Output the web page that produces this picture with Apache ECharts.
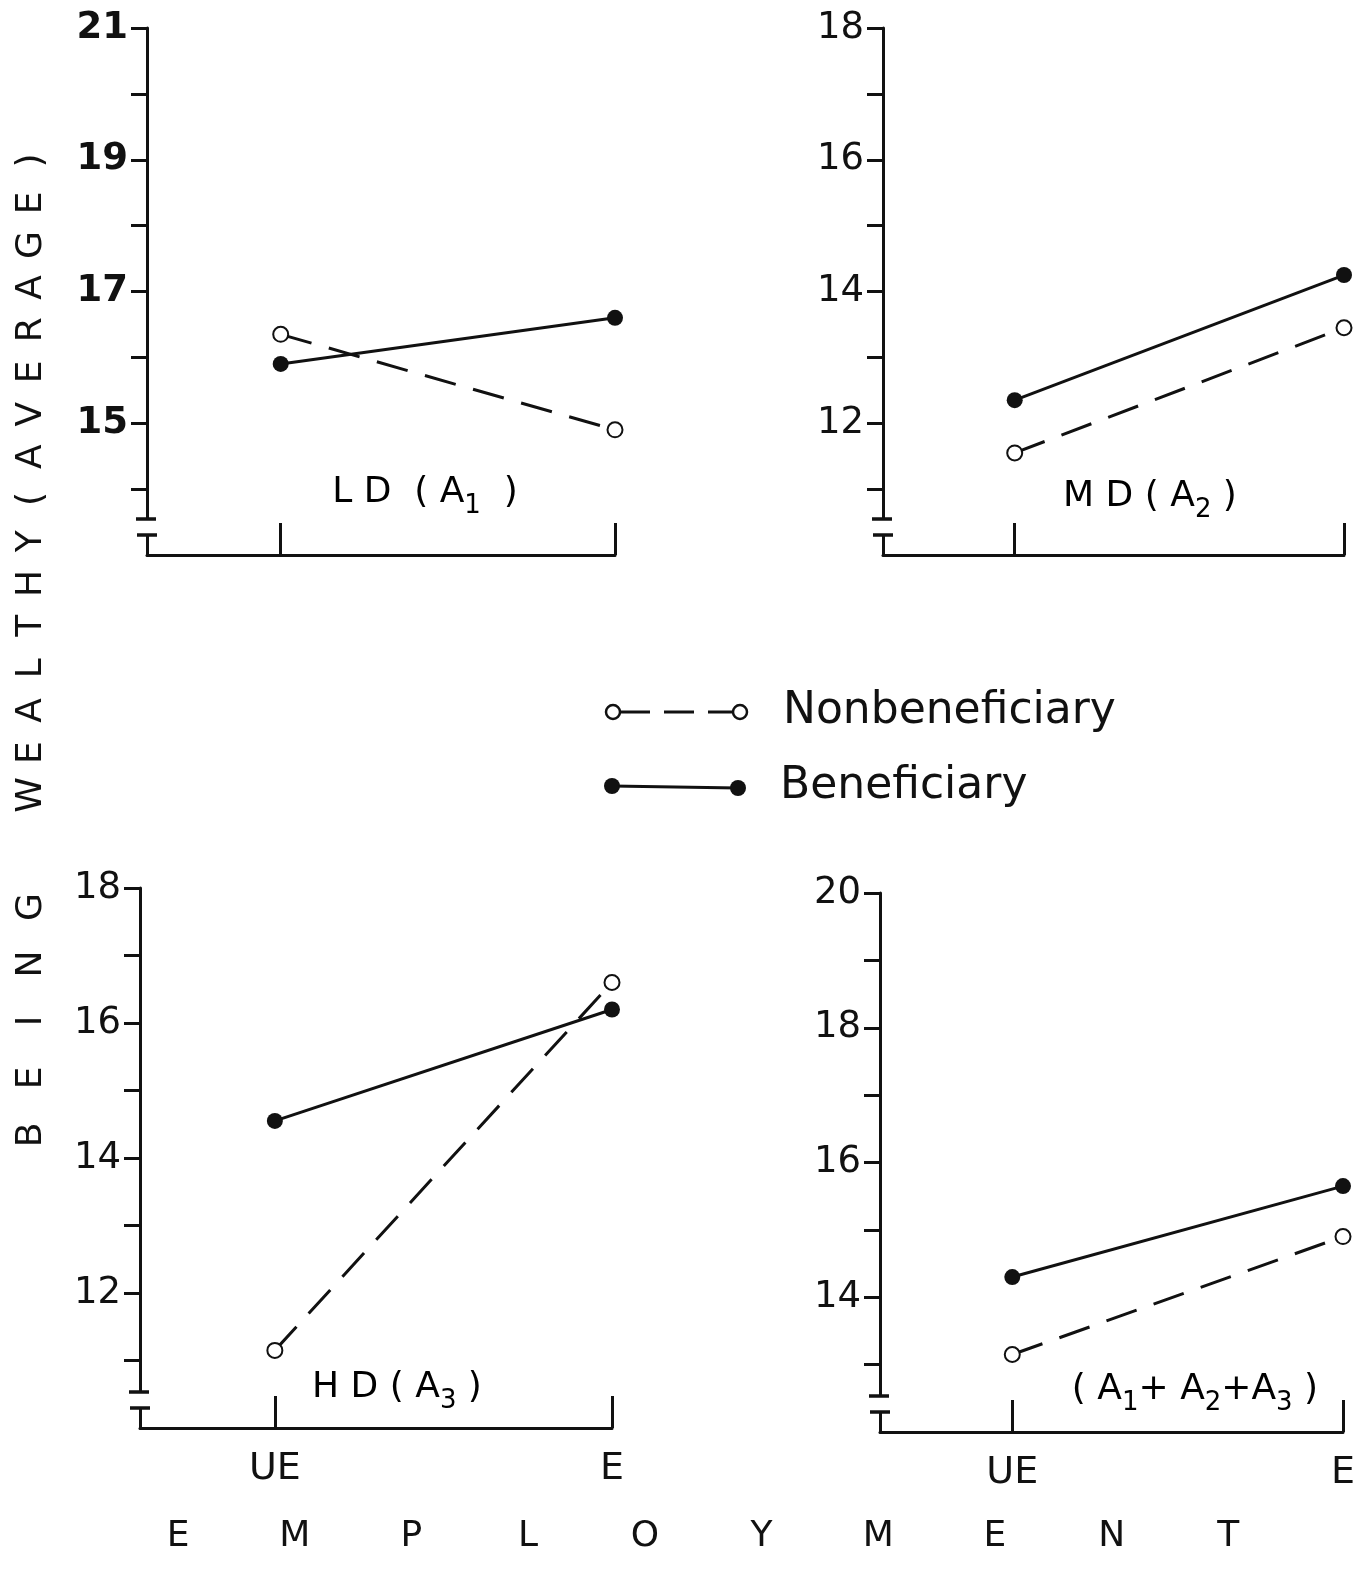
<!DOCTYPE html>
<html>
<head>
<meta charset="utf-8">
<script src="https://cdn.jsdelivr.net/npm/echarts@6/dist/echarts.min.js"></script>
<style>
html, body { margin: 0; background: #fff; }
#main { width: 1366px; height: 1574px; }
</style>
</head>
<body>
<div id="main"></div>
<script>
// employment status on the x axis
var categories = ['UE', 'E'];

// mean "being wealthy" score, one array per panel and group
var nonLD = [16.35, 14.9];
var benLD = [15.9, 16.6];
var nonMD = [11.55, 13.45];
var benMD = [12.35, 14.25];
var nonHD = [11.15, 16.6];
var benHD = [14.55, 16.2];
var nonAll = [13.15, 14.9];
var benAll = [14.3, 15.65];

// y axis ranges and labelled ticks
var yMins = [13, 10, 10, 12];
var yMaxs = [21, 18, 18, 20];
var yLabelsLD = [15, 17, 19, 21];
var yLabelsMD = [12, 14, 16, 18];
var yLabelsHD = [12, 14, 16, 18];
var yLabelsAll = [14, 16, 18, 20];

var ink = '#111';
var font = 'DejaVu Sans';

var nonSeries = [nonLD, nonMD, nonHD, nonAll];
var benSeries = [benLD, benMD, benHD, benAll];
var yLabels = [yLabelsLD, yLabelsMD, yLabelsHD, yLabelsAll];

var grids = [
    {left: 147, top: 28, width: 468, height: 527},
    {left: 883, top: 28, width: 461, height: 527},
    {left: 140, top: 888, width: 472, height: 540},
    {left: 880, top: 893, width: 463, height: 539}
];

var dom = document.getElementById('main');
var chart = echarts.init(dom);

var xAxes = [], yAxes = [], series = [];
for (var i = 0; i < 4; i++) {
    var ticks = [];
    for (var v = yMins[i] + 1; v <= yMaxs[i]; v++) ticks.push(v);
    xAxes.push({
        gridIndex: i, type: 'value', min: -0.4, max: 1,
        axisLine: {show: true, onZero: false, lineStyle: {color: ink, width: 3}},
        axisTick: {show: true, inside: true, length: 32, customValues: [0, 1], lineStyle: {color: ink, width: 3}},
        axisLabel: {
            show: i >= 2, customValues: [0, 1], margin: 22,
            formatter: function (val) { return categories[Math.round(val)]; },
            color: ink, fontSize: 38, fontFamily: font
        },
        splitLine: {show: false}
    });
    yAxes.push({
        gridIndex: i, type: 'value', min: yMins[i], max: yMaxs[i],
        axisLine: {show: true, onZero: false, lineStyle: {color: ink, width: 3}},
        axisTick: {show: true, inside: false, length: 16, customValues: ticks, lineStyle: {color: ink, width: 3}},
        axisLabel: {
            customValues: yLabels[i], margin: 19, color: ink, fontSize: 37,
            fontFamily: font, fontWeight: i === 0 ? 'bold' : 'normal'
        },
        splitLine: {show: false}
    });
    series.push({
        name: 'Nonbeneficiary', type: 'line', xAxisIndex: i, yAxisIndex: i,
        data: nonSeries[i].map(function (val, j) { return [j, val]; }),
        symbol: 'emptyCircle', symbolSize: 15,
        lineStyle: {color: ink, width: 3, type: [32, 18]},
        itemStyle: {color: ink, borderWidth: 2.5}
    });
    series.push({
        name: 'Beneficiary', type: 'line', xAxisIndex: i, yAxisIndex: i,
        data: benSeries[i].map(function (val, j) { return [j, val]; }),
        symbol: 'circle', symbolSize: 16,
        lineStyle: {color: ink, width: 3},
        itemStyle: {color: ink}
    });
}

var option = {
    backgroundColor: '#fff',
    animation: false,
    grid: grids.map(function (g) {
        return Object.assign({outerBoundsMode: 'none', containLabel: false}, g);
    }),
    xAxis: xAxes,
    yAxis: yAxes,
    series: series
};
chart.setOption(option);

// decorations: axis breaks, panel titles, legend, axis titles
var gfx = [];
for (var k = 0; k < 4; k++) {
    var p = chart.convertToPixel({gridIndex: k}, [-0.4, yMins[k]]);
    gfx.push({type: 'rect', z: 50, shape: {x: p[0] - 6, y: p[1] - 36, width: 12, height: 16}, style: {fill: '#fff'}});
    gfx.push({type: 'line', z: 51, shape: {x1: p[0] - 11, y1: p[1] - 36, x2: p[0] + 9, y2: p[1] - 36}, style: {stroke: ink, lineWidth: 3.5}});
    gfx.push({type: 'line', z: 51, shape: {x1: p[0] - 10, y1: p[1] - 20, x2: p[0] + 10, y2: p[1] - 20}, style: {stroke: ink, lineWidth: 3.5}});
}

var richStyle = {
    m: {fontSize: 36, fontFamily: font, color: ink, lineHeight: 52, verticalAlign: 'middle'},
    s: {fontSize: 26, fontFamily: font, color: ink, lineHeight: 52, verticalAlign: 'bottom'}
};
var panelTitles = [
    {x: 425, y: 493, text: '{m|L D  ( A}{s|1}{m|  )}'},
    {x: 1150, y: 497, text: '{m|M D ( A}{s|2}{m| )}'},
    {x: 397, y: 1388, text: '{m|H D ( A}{s|3}{m| )}'},
    {x: 1195, y: 1390, text: '{m|( A}{s|1}{m|+ A}{s|2}{m|+A}{s|3}{m| )}'}
];
panelTitles.forEach(function (t) {
    gfx.push({type: 'text', z: 60, x: t.x, y: t.y,
        style: {text: t.text, rich: richStyle, align: 'center', verticalAlign: 'middle'}});
});

// legend
gfx.push({type: 'line', z: 60, shape: {x1: 620, y1: 712, x2: 733, y2: 712}, style: {stroke: ink, lineWidth: 3, lineDash: [30, 14]}});
gfx.push({type: 'circle', z: 61, shape: {cx: 613, cy: 712, r: 7}, style: {fill: '#fff', stroke: ink, lineWidth: 2.5}});
gfx.push({type: 'circle', z: 61, shape: {cx: 740, cy: 712, r: 7}, style: {fill: '#fff', stroke: ink, lineWidth: 2.5}});
gfx.push({type: 'line', z: 60, shape: {x1: 612, y1: 786, x2: 738, y2: 788}, style: {stroke: ink, lineWidth: 3}});
gfx.push({type: 'circle', z: 61, shape: {cx: 612, cy: 786, r: 8}, style: {fill: ink}});
gfx.push({type: 'circle', z: 61, shape: {cx: 738, cy: 788, r: 8}, style: {fill: ink}});
gfx.push({type: 'text', z: 60, x: 783, y: 712, style: {text: 'Nonbeneficiary', fontSize: 44, fontFamily: font, fill: ink, verticalAlign: 'middle'}});
gfx.push({type: 'text', z: 60, x: 780, y: 787, style: {text: 'Beneficiary', fontSize: 44, fontFamily: font, fill: ink, verticalAlign: 'middle'}});

// rotated y title, letter by letter
var being = 'BEING'.split('');
being.forEach(function (ch, j) {
    gfx.push({type: 'text', z: 60, x: 32, y: 1135 - j * 57, rotation: Math.PI / 2,
        style: {text: ch, fontSize: 36, fontFamily: font, fill: ink, align: 'center', verticalAlign: 'middle'}});
});
var wealthy = 'WEALTHY(AVERAGE)'.split('');
wealthy.forEach(function (ch, j) {
    gfx.push({type: 'text', z: 60, x: 32, y: 795 - j * 42.3, rotation: Math.PI / 2,
        style: {text: ch, fontSize: 36, fontFamily: font, fill: ink, align: 'center', verticalAlign: 'middle'}});
});

// spaced x title
var employment = 'EMPLOYMENT'.split('');
employment.forEach(function (ch, j) {
    gfx.push({type: 'text', z: 60, x: 178 + j * 116.7, y: 1537,
        style: {text: ch, fontSize: 36, fontFamily: font, fill: ink, align: 'center', verticalAlign: 'middle'}});
});

chart.setOption({graphic: gfx});
</script>
</body>
</html>
